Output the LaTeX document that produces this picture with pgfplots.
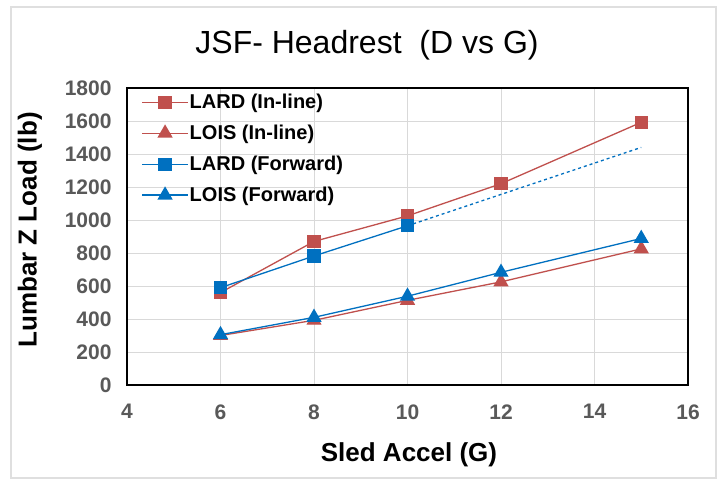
\documentclass[border=0pt]{standalone}
\usepackage{pgfplots}
\pgfplotsset{compat=1.18}
\usepackage{fontspec}
\setmainfont{Liberation Sans}
\definecolor{cred}{HTML}{C0504D}
\definecolor{cblue}{HTML}{0070C0}
\definecolor{tickgray}{HTML}{595959}
\definecolor{gridgray}{HTML}{D9D9D9}
\begin{document}
\begin{tikzpicture}[x=1pt,y=1pt]
\useasboundingbox (0,0) rectangle (719,480);
\fill[white] (0,0) rectangle (719,480);
\draw[line width=1.2pt, gray!25] (11,2) rectangle (716,473);
\begin{axis}[
  at={(127pt,95pt)}, anchor=south west,
  scale only axis, width=561pt, height=297pt,
  xmin=4, xmax=16, ymin=0, ymax=1800,
  xtick={4,6,...,16}, ytick={0,200,...,1800},
  grid=major, major grid style={gridgray, line width=0.8pt},
  axis line style={black, line width=1.3pt},
  tick style={draw=none},
  /pgf/number format/assume math mode=true,
  /pgf/number format/1000 sep={},
  ticklabel style={font=\fontsize{21}{24}\selectfont\bfseries, text=tickgray},
  xticklabel style={yshift=-16pt},
  yticklabel style={xshift=-12pt},
  legend style={draw=none, fill=none, at={(0.02,0.99)}, anchor=north west,
    font=\fontsize{20}{24}\selectfont\bfseries, row sep=13pt,
    nodes={inner sep=1pt}},
  legend cell align=left,
  legend image code/.code={%
    \draw[#1, line width=1.3pt] (0pt,0pt) -- (46pt,0pt);
    \draw[#1, solid] plot coordinates {(23pt,0pt)};},
]
\addplot[cred, line width=1.3pt, mark=square*, mark size=6pt, mark options={solid}] coordinates {(6,560) (8,870) (10,1025) (12,1220) (15,1592)};
\addlegendentry{LARD (In-line)}
\addplot[cred, line width=1.3pt, mark=triangle*, mark size=7.5pt, mark options={solid}] coordinates {(6,300) (8,392) (10,513) (12,625) (15,825)};
\addlegendentry{LOIS (In-line)}
\addplot[cblue, line width=1.3pt, mark=square*, mark size=6pt, mark options={solid}] coordinates {(6,590) (8,782) (10,965)};
\addlegendentry{LARD (Forward)}
\addplot[cblue, line width=1.3pt, mark=triangle*, mark size=7.5pt, mark options={solid}] coordinates {(6,305) (8,410) (10,538) (12,683) (15,888)};
\addlegendentry{LOIS (Forward)}
\addplot[cblue, line width=1.3pt, dashed, forget plot] coordinates {(10,965) (15,1440)};
\end{axis}
\node[font=\fontsize{32}{36}\selectfont] at (367,435) {JSF- Headrest\ \ (D vs G)};
\node[font=\fontsize{26}{30}\selectfont\bfseries] at (409,25) {Sled Accel (G)};
\node[font=\fontsize{26}{30}\selectfont\bfseries, rotate=90] at (30,250) {Lumbar Z Load (lb)};
\end{tikzpicture}
\end{document}
